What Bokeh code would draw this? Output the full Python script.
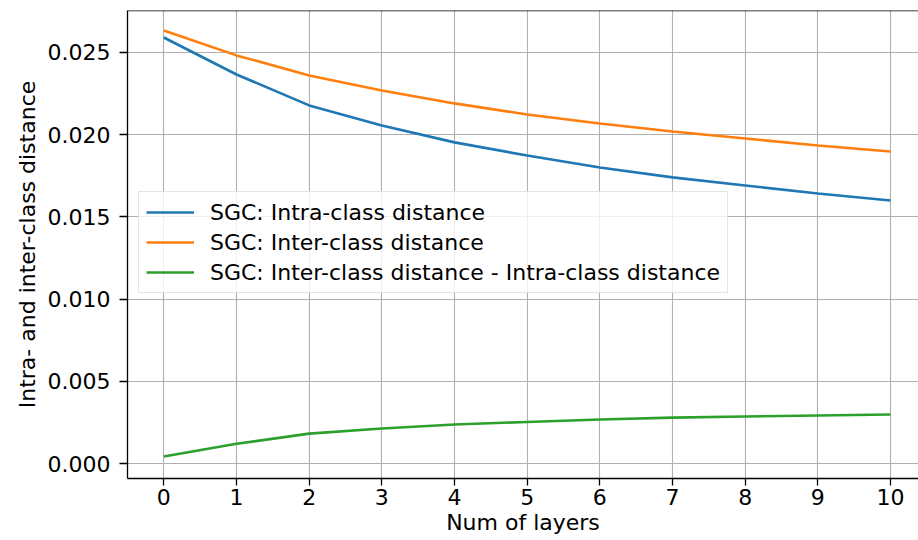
from bokeh.plotting import figure
from bokeh.models import Range1d, FixedTicker, NumeralTickFormatter, Legend, LegendItem, Span
from bokeh.embed import file_html
from bokeh.resources import INLINE

layers = [0, 1, 2, 3, 4, 5, 6, 7, 8, 9, 10]
intra = [0.02591, 0.02366, 0.02178, 0.02056, 0.01953, 0.01873, 0.01800, 0.01740, 0.01691, 0.01642, 0.01600]
inter = [0.02634, 0.02482, 0.02360, 0.02269, 0.02190, 0.02123, 0.02068, 0.02019, 0.01977, 0.01934, 0.01898]
gap = [0.00043, 0.00120, 0.00182, 0.00213, 0.00237, 0.00253, 0.00268, 0.00279, 0.00286, 0.00292, 0.00298]
y_ticks = [0.0, 0.005, 0.010, 0.015, 0.020, 0.025]
x_ticks = [0, 1, 2, 3, 4, 5, 6, 7, 8, 9, 10]
series_labels = [
    "SGC: Intra-class distance",
    "SGC: Inter-class distance",
    "SGC: Inter-class distance - Intra-class distance",
]
colors = ["#1f77b4", "#ff7f0e", "#2ca02c"]

FONT = "DejaVu Sans"
FS = "22px"
Y_MIN, Y_MAX = -0.00091, 0.02755

p = figure(width=918, height=540, output_backend="svg", toolbar_location=None,
           x_range=Range1d(-0.5, 10.385), y_range=Range1d(Y_MIN, Y_MAX),
           min_border_left=127, min_border_right=0, min_border_top=10, min_border_bottom=62)
p.outline_line_color = None
p.background_fill_color = "white"
p.border_fill_color = "white"

for ax in (p.xaxis[0], p.yaxis[0]):
    ax.axis_line_color = "black"
    ax.axis_line_width = 1.3
    ax.major_tick_line_color = "black"
    ax.major_tick_line_width = 1.3
    ax.major_tick_in = 0
    ax.minor_tick_line_color = None
    ax.major_label_text_font = FONT
    ax.major_label_text_font_size = FS
    ax.major_label_text_color = "black"
    ax.axis_label_text_font = FONT
    ax.axis_label_text_font_size = FS
    ax.axis_label_text_font_style = "normal"
    ax.axis_label_text_color = "black"

p.xaxis.ticker = FixedTicker(ticks=x_ticks)
p.yaxis.ticker = FixedTicker(ticks=y_ticks)
p.yaxis.formatter = NumeralTickFormatter(format="0.000")
p.xaxis.axis_label = "Num of layers"
p.yaxis.axis_label = "Intra- and inter-class distance"
p.xaxis.major_tick_out = 7
p.yaxis.major_tick_out = 8
p.xaxis.major_label_standoff = 3
p.xaxis.axis_label_standoff = 2
p.yaxis.major_label_standoff = 9
p.yaxis.axis_label_standoff = 5

for g in (p.xgrid[0], p.ygrid[0]):
    g.grid_line_color = "#b0b0b0"
    g.grid_line_width = 1.1

p.add_layout(Span(location=Y_MAX, dimension="width", line_color="black", line_width=1.3))

renderers = []
for ys, c in zip([intra, inter, gap], colors):
    r = p.line(layers, ys, line_color=c, line_width=2.6)
    renderers.append(r)

legend = Legend(items=[LegendItem(label=l, renderers=[r]) for l, r in zip(series_labels, renderers)],
                location=(11, 185))
legend.label_text_font = FONT
legend.label_text_font_size = FS
legend.label_text_color = "black"
legend.glyph_width = 48
legend.glyph_height = 26
legend.label_height = 26
legend.label_standoff = 16
legend.spacing = 4
legend.padding = 7
legend.margin = 0
legend.border_line_color = "#cccccc"
legend.border_line_width = 1.2
legend.background_fill_alpha = 0.8
p.add_layout(legend, "center")

open("out.html", "w").write(file_html(p, INLINE))
